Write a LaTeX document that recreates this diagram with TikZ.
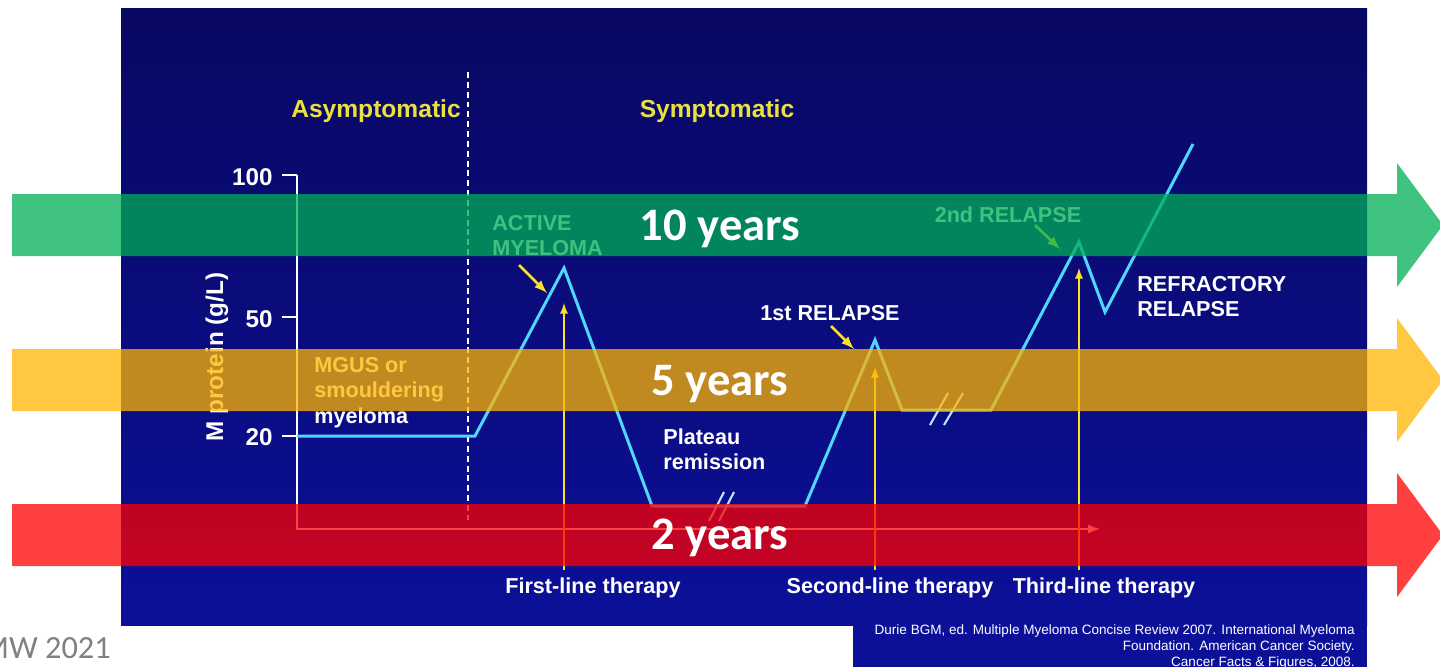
\documentclass[tikz,border=0pt]{standalone}
\usepackage{fontspec}
\setmainfont{Liberation Sans}
\newfontfamily\calibrifont{Carlito}
\usetikzlibrary{calc}

\definecolor{paneltop}{RGB}{8,8,98}
\definecolor{panelbottom}{RGB}{12,16,152}
\definecolor{mprot}{RGB}{80,215,255}
\definecolor{brkblue}{RGB}{190,230,255}
\definecolor{arrowyellow}{RGB}{250,225,40}
\definecolor{headyellow}{RGB}{235,225,60}
\definecolor{bandgreen}{RGB}{0,173,85}
\definecolor{bandyellow}{RGB}{255,181,0}
\definecolor{bandred}{RGB}{255,0,0}
\definecolor{mwgray}{RGB}{128,128,128}

\begin{document}
\begin{tikzpicture}[
        >=latex, x=0.02cm, y=-0.02cm,
        lbl/.style={text=white, inner sep=0pt, font=\bfseries\fontsize{12.3}{14.5}\selectfont},
        ticklbl/.style={lbl, font=\bfseries\fontsize{13.8}{16}\selectfont},
        head/.style={text=headyellow, inner sep=0pt, font=\bfseries\fontsize{14}{16}\selectfont},
        axis/.style={draw=white, line width=1.3pt},
        divider/.style={draw=white, line width=1pt, dash pattern=on 3.4pt off 2.2pt},
        mcurve/.style={draw=mprot, line width=1.7pt},
        brk/.style={draw=brkblue, line width=1.2pt},
        therapy/.style={draw=arrowyellow, line width=1.1pt, ->},
        pointer/.style={draw=arrowyellow, line width=1.5pt, ->},
        band/.style={fill opacity=0.75},
        yrs/.style={text=white, inner sep=0pt, font=\calibrifont\bfseries\fontsize{26.5}{30}\selectfont},
    ]
    \useasboundingbox (0,0) rectangle (1440,667);

    % slide panel
    \shade[top color=paneltop, bottom color=panelbottom] (121,8) rectangle (1367,625);
    \fill[panelbottom] (853,625) rectangle (1367,667);

    % axes
    \coordinate (ytop) at (297,175);
    \coordinate (orig) at (297,529);
    \coordinate (xend) at (1100,529);
    \draw[axis,->] (ytop) -- (orig) -- (xend);
    \draw[axis] (282,175) -- (ytop);
    \draw[axis] (282,317) -- (297,317);
    \draw[axis] (282,436) -- (297,436);
    \node[ticklbl, anchor=base east] (t100) at (273,185) {100};
    \node[ticklbl, anchor=base east] (t50) at (273,327) {50};
    \node[ticklbl, anchor=base east] (t20) at (273,445) {20};
    \node[ticklbl, rotate=90] (ylab) at (217,357) {M protein (g/L)};

    \coordinate (dvtop) at (468,72);
    \coordinate (dvbot) at (468,520);
    \draw[divider] (dvtop) -- (dvbot);
    \node[head, anchor=base] (asym) at (376,117) {Asymptomatic};
    \node[head, anchor=base] (sym) at (717,117) {Symptomatic};

    % M protein course
    \coordinate (c0) at (297,436);
    \coordinate (c1) at (475,436);
    \coordinate (pk1) at (564,268);
    \coordinate (c2) at (652,506);
    \coordinate (c3) at (805,506);
    \coordinate (pk2) at (875,340);
    \coordinate (c4) at (902,410);
    \coordinate (c5) at (991,410);
    \coordinate (pk3) at (1079,242);
    \coordinate (tr) at (1105,312);
    \coordinate (cend) at (1193,144);
    \draw[mcurve] (c0) -- (c1) -- (pk1) -- (c2) -- (c3) -- (pk2) -- (c4) -- (c5) -- (pk3) -- (tr) -- (cend);
    \draw[brk] (709,521) -- (724,492);
    \draw[brk] (719,521) -- (734,492);
    \draw[brk] (930,425) -- (948,393);
    \draw[brk] (944,425) -- (963,393);

    \node[lbl, anchor=north west, align=left] (mgus) at (314,357) {MGUS or\\smouldering\\myeloma};
    \node[lbl, anchor=north west, align=left] (active) at (492,215) {ACTIVE\\MYELOMA};
    \node[lbl, anchor=north west, align=left] (plateau) at (663,428) {Plateau\\remission};
    \node[lbl, anchor=north] (rel1) at (830,305) {1st RELAPSE};
    \node[lbl, anchor=north] (rel2) at (1008,206) {2nd RELAPSE};
    \node[lbl, anchor=north west, align=left] (refr) at (1137,276) {REFRACTORY\\RELAPSE};

    \coordinate (pa0) at (519,265);
    \coordinate (pa1) at (547,293);
    \coordinate (pb0) at (831,326);
    \coordinate (pb1) at (854,349);
    \coordinate (pc0) at (1035,225);
    \coordinate (pc1) at (1060,249);
    \draw[pointer] (pa0) -- (pa1);
    \draw[pointer] (pb0) -- (pb1);
    \draw[pointer] (pc0) -- (pc1);

    % therapy lines
    \node[lbl, anchor=base] (first) at (593,593) {First-line therapy};
    \node[lbl, anchor=base] (second) at (890,593) {Second-line therapy};
    \node[lbl, anchor=base] (third) at (1104,593) {Third-line therapy};
    \coordinate (th1) at (564,570);
    \coordinate (th2) at (875,570);
    \coordinate (th3) at (1079,570);
    \draw[therapy] (th1) -- (564,303);
    \draw[therapy] (th2) -- (875,367);
    \draw[therapy] (th3) -- (1079,268);

    \node[inner sep=0pt, anchor=north east, align=right, text=white,
          font=\fontsize{7.7}{9.1}\selectfont] (cite) at (1355,624)
        {Durie BGM, ed. Multiple Myeloma Concise Review 2007. International Myeloma\\
         Foundation. American Cancer Society.\\Cancer Facts \& Figures, 2008.};
    \node[inner sep=0pt, anchor=base east, text=mwgray,
          font=\calibrifont\fontsize{18.4}{20}\selectfont] (mw) at (111,658) {MW 2021};

    % survival bands
    \fill[bandgreen, band] (12,194) -- (1397,194) -- (1397,163) -- (1443,225)
        -- (1397,287) -- (1397,256) -- (12,256) -- cycle;
    \fill[bandyellow, band] (12,349) -- (1397,349) -- (1397,318) -- (1443,380)
        -- (1397,442) -- (1397,411) -- (12,411) -- cycle;
    \fill[bandred, band] (12,504) -- (1397,504) -- (1397,473) -- (1443,535)
        -- (1397,597) -- (1397,566) -- (12,566) -- cycle;
    \node[yrs] (tenyrs) at (720,229) {10 years};
    \node[yrs] (fiveyrs) at (720,384) {5 years};
    \node[yrs] (twoyrs) at (720,538) {2 years};
\end{tikzpicture}
\end{document}
